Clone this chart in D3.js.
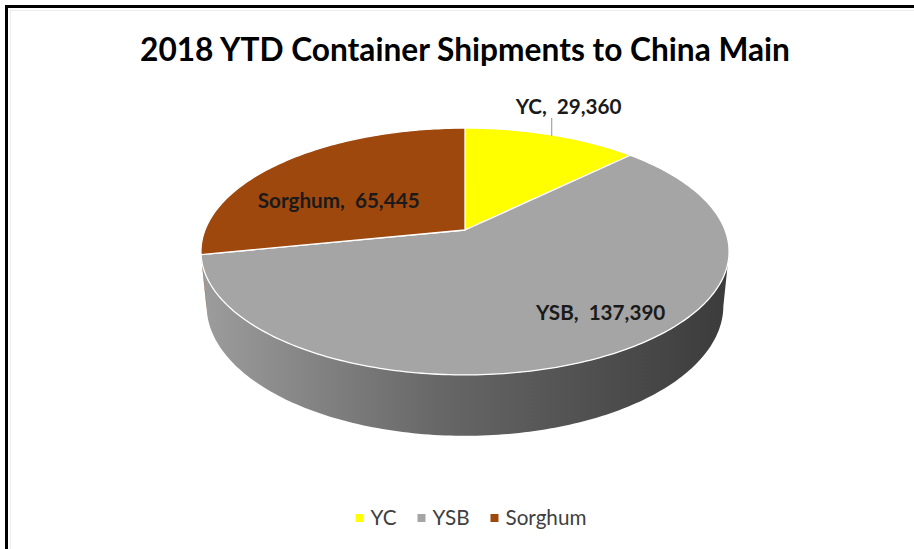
<!DOCTYPE html>
<html>
<head>
<meta charset="utf-8">
<script src="https://cdn.jsdelivr.net/npm/d3@7"></script>
<style>
  body { margin: 0; background: #fff; }
  svg { display: block; }
</style>
</head>
<body>
<script>
// chart data
const categories = ["YC", "YSB", "Sorghum"];
const values = [29360, 137390, 65445];
const colors = ["#FFFF00", "#A5A5A5", "#9E480E"];
const title = "2018 YTD Container Shipments to China Main";

const width = 914, height = 549;
const fontFamily = "Lato, 'Open Sans', sans-serif";

const svg = d3.select("body").append("svg")
  .attr("width", width)
  .attr("height", height);

// frame (only top and left edges show in the picture)
svg.append("rect")
  .attr("x", 10.5).attr("y", 10.5)
  .attr("width", width).attr("height", height)
  .attr("fill", "none").attr("stroke", "#ececec");
svg.append("path")
  .attr("d", `M6.5,${height} V6.5 H${width}`)
  .attr("fill", "none").attr("stroke", "#000").attr("stroke-width", 3);

// simple perspective camera for the 3D pie
const cx = 465, cy = 230;
const focal = 1325.6, dist = 5.098, thick = 0.237;
const tilt = 27.4 * Math.PI / 180;
const cs = Math.cos(tilt), sn = Math.sin(tilt);

// a: angle clockwise from 12 o'clock, r: radius (1 = rim), h: height (0 = top face)
function project(a, r, h) {
  const x = r * Math.sin(a), z = r * Math.cos(a);
  const D = dist + z * cs - h * sn;
  return [cx + focal * x / D, cy - focal * (z * sn + h * cs) / D];
}

function arcPoints(a0, a1, r, h) {
  const n = Math.max(2, Math.ceil(Math.abs(a1 - a0) / (Math.PI / 180)));
  return d3.range(n + 1).map(i => project(a0 + (a1 - a0) * i / n, r, h));
}

const color = d3.scaleOrdinal().domain(categories).range(colors);
const rows = categories.map((c, i) => ({ name: c, value: values[i] }));
const arcs = d3.pie().sort(null).value(d => d.value)(rows);

const line = d3.line();
const rimX = d3.extent(arcPoints(0, 2 * Math.PI, 1, 0), p => p[0]);

// side gradients
const defs = svg.append("defs");
const sideStops = {
  YC: ["#c8c800", "#6e6e00"],
  YSB: ["#9d9d9d", "#3b3b3b"],
  Sorghum: ["#86400f", "#4a2207"]
};
categories.forEach(c => {
  const g = defs.append("linearGradient")
    .attr("id", "side-" + c)
    .attr("gradientUnits", "userSpaceOnUse")
    .attr("x1", rimX[0]).attr("x2", rimX[1])
    .attr("y1", 0).attr("y2", 0);
  const mid = d3.interpolateRgb(sideStops[c][0], sideStops[c][1])(0.55);
  g.append("stop").attr("offset", "0%").attr("stop-color", sideStops[c][0]);
  g.append("stop").attr("offset", "45%").attr("stop-color", mid);
  g.append("stop").attr("offset", "100%").attr("stop-color", sideStops[c][1]);
});

// visible part of the outer wall lies between the silhouette angles
const silhouette = Math.acos(-cs / dist);
const wallFrom = silhouette, wallTo = 2 * Math.PI - silhouette;

const sides = svg.append("g");
arcs.forEach(d => {
  const a0 = Math.max(d.startAngle, wallFrom);
  const a1 = Math.min(d.endAngle, wallTo);
  if (a1 <= a0) return;
  const pts = arcPoints(a0, a1, 1, 0).concat(arcPoints(a1, a0, 1, -thick));
  sides.append("path")
    .attr("d", line(pts) + "Z")
    .attr("fill", `url(#side-${d.data.name})`);
});

// top faces
svg.append("g").selectAll("path")
  .data(arcs)
  .join("path")
  .attr("d", d => line([project(0, 0, 0)].concat(arcPoints(d.startAngle, d.endAngle, 1, 0))) + "Z")
  .attr("fill", d => color(d.data.name))
  .attr("stroke", "#fff")
  .attr("stroke-width", 1.3)
  .attr("stroke-linejoin", "round");

// helper: size a text so it spans a given width
function fitSize(sel, target) {
  sel.style("font-size", "100px");
  const w = sel.node().getComputedTextLength();
  const size = 100 * target / w;
  sel.style("font-size", size + "px");
  return size;
}

// title
const titleText = svg.append("text")
  .attr("x", cx).attr("y", 61)
  .attr("text-anchor", "middle")
  .attr("font-family", fontFamily)
  .attr("font-weight", "bold")
  .attr("fill", "#000")
  .text(title);
fitSize(titleText, 650);

// data labels
const fmt = d3.format(",");
const labelSpec = {
  YC: { r: 1.0, dx: 17, dy: -21, leader: true },
  YSB: { r: 0.7, dx: 40, dy: 7 },
  Sorghum: { r: 0.6, dx: -13, dy: 21 }
};
const labels = svg.append("g")
  .attr("font-family", fontFamily)
  .attr("font-weight", "bold")
  .attr("fill", "#1a1a1a")
  .attr("text-anchor", "middle");

let labelSize = null;
arcs.forEach(d => {
  const s = labelSpec[d.data.name];
  const mid = (d.startAngle + d.endAngle) / 2;
  const p = project(mid, s.r, 0);
  if (s.leader) {
    labels.append("line")
      .attr("x1", p[0]).attr("y1", p[1] + 1)
      .attr("x2", p[0]).attr("y2", p[1] - 17)
      .attr("stroke", "#a5a5a5").attr("stroke-width", 1.2);
  }
  const t = labels.append("text")
    .attr("x", p[0] + s.dx).attr("y", p[1] + s.dy)
    .attr("xml:space", "preserve")
    .text(`${d.data.name},  ${fmt(d.data.value)}`);
  if (d.data.name === "Sorghum") labelSize = fitSize(t, 162);
});
labels.selectAll("text").style("font-size", labelSize + "px");

// legend
const legend = svg.append("g")
  .attr("font-family", fontFamily)
  .attr("fill", "#404040");
const items = legend.selectAll("g")
  .data(categories)
  .join("g");
items.append("rect")
  .attr("width", 8).attr("height", 8)
  .attr("y", 514)
  .attr("fill", d => color(d));
const legendTexts = items.append("text")
  .attr("y", 525)
  .attr("x", 15)
  .text(d => d);
const legendSize = fitSize(legendTexts.filter(d => d === "Sorghum"), 81);
legendTexts.style("font-size", legendSize + "px");

let lx = 0;
const offsets = [];
legendTexts.each(function () {
  offsets.push(lx);
  lx += 15 + this.getComputedTextLength() + 21;
});
const legendWidth = lx - 21;
const legendStart = 471 - legendWidth / 2;
items.attr("transform", (d, i) => `translate(${legendStart + offsets[i]},0)`);
</script>
</body>
</html>
